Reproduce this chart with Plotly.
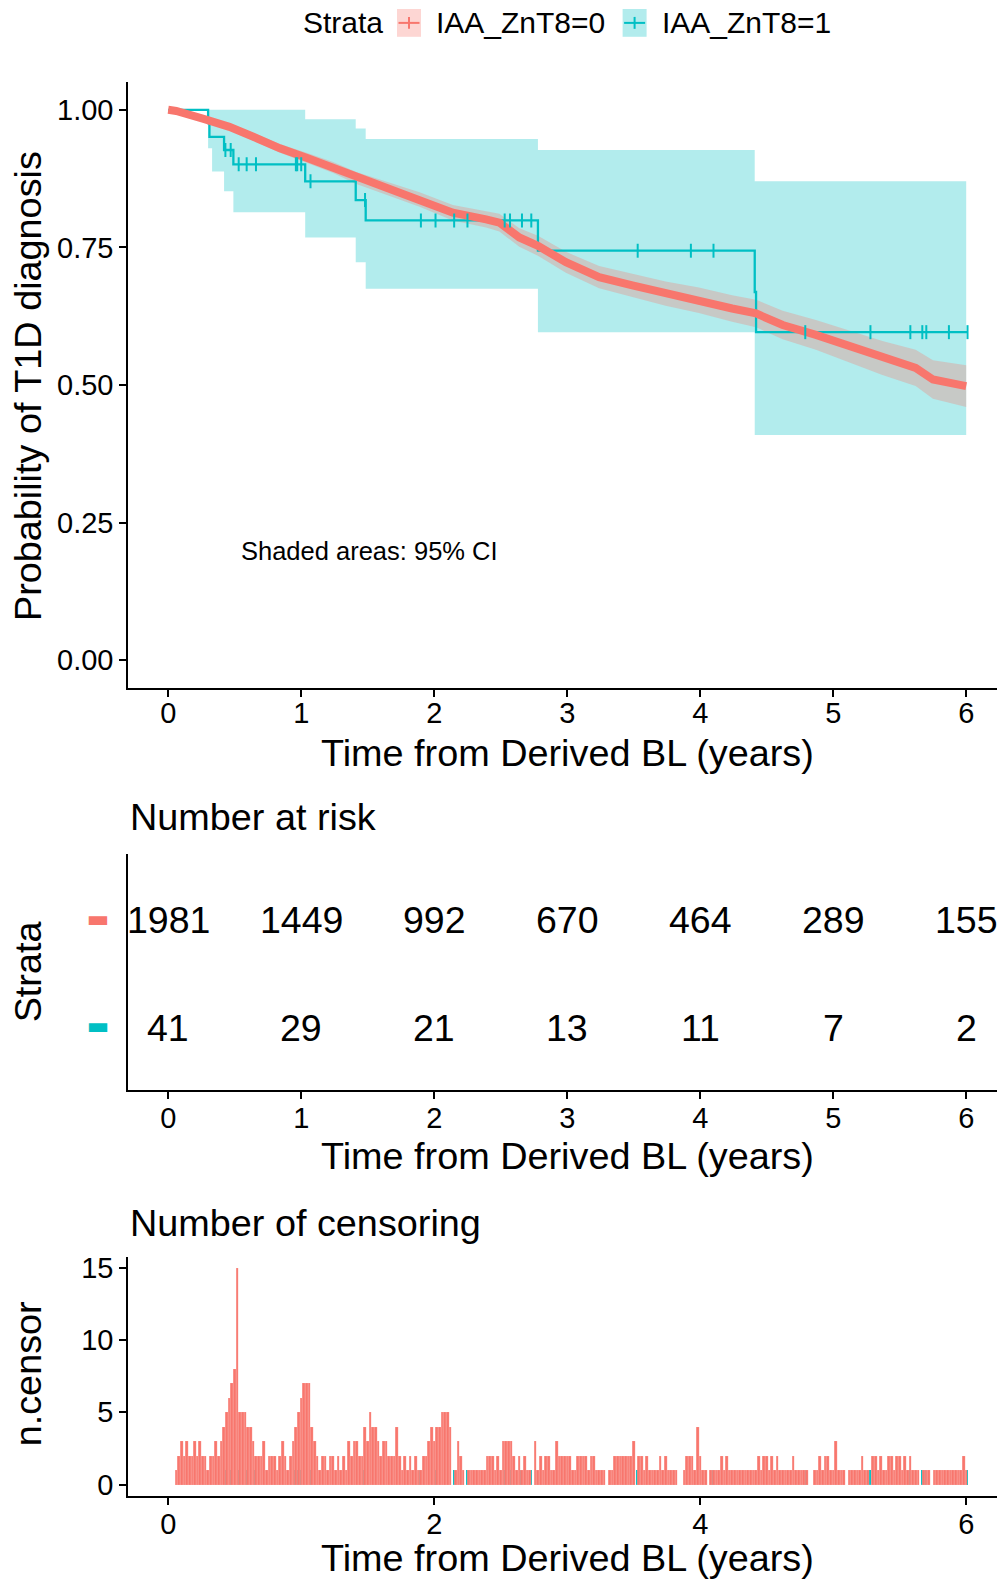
import plotly.graph_objects as go

W, H = 997, 1585
RED = "#F8766D"
TEAL = "#00BFC4"
RED_FILL = "rgba(248,118,109,0.3)"
TEAL_FILL = "rgba(0,191,196,0.3)"
FONT = "Liberation Sans, Arial, sans-serif"

# ---------------- data ----------------
strata_names = ["IAA_ZnT8=0", "IAA_ZnT8=1"]

# IAA_ZnT8=0 survival curve (dense censor marks make it a thick band)
red_time = [0, 0.06, 0.26, 0.46, 0.64, 0.84, 1.04, 1.24, 1.415, 1.64, 1.89, 2.14, 2.39, 2.49,
            2.64, 2.78, 2.99, 3.24, 3.49, 3.74, 3.99, 4.24, 4.42, 4.62, 4.87, 5.12, 5.37,
            5.62, 5.75, 6.0]
red_surv = [1.0, 0.998, 0.984, 0.969, 0.951, 0.930, 0.913, 0.895, 0.876, 0.858, 0.837, 0.813,
            0.801, 0.795, 0.768, 0.753, 0.723, 0.696, 0.681, 0.666, 0.654, 0.639, 0.630,
            0.609, 0.591, 0.570, 0.549, 0.531, 0.510, 0.498]
red_upper = [1.0, 1.0, 0.988, 0.975, 0.958, 0.938, 0.922, 0.905, 0.887, 0.870, 0.850, 0.827,
             0.816, 0.811, 0.785, 0.771, 0.742, 0.716, 0.702, 0.688, 0.677, 0.663, 0.655,
             0.635, 0.618, 0.599, 0.580, 0.564, 0.545, 0.536]
red_lower = [1.0, 0.996, 0.980, 0.963, 0.944, 0.922, 0.904, 0.885, 0.865, 0.846, 0.824, 0.799,
             0.786, 0.779, 0.751, 0.735, 0.704, 0.676, 0.660, 0.644, 0.631, 0.615, 0.605,
             0.583, 0.564, 0.541, 0.518, 0.498, 0.475, 0.460]

# IAA_ZnT8=1 step curve
teal_time = [0, 0.30, 0.31, 0.42, 0.49, 1.03, 1.41, 1.485, 2.78, 4.41, 4.42, 6.01]
teal_surv = [1.0, 0.976, 0.951, 0.927, 0.901, 0.870, 0.836, 0.799, 0.744, 0.669, 0.596, 0.596]
teal_ci_time = [0, 0.30, 0.33, 0.42, 0.49, 1.03, 1.41, 1.485, 2.78, 4.41, 6.0]
teal_ci_upper = [1.0, 1.0, 1.0, 1.0, 1.0, 0.983, 0.966, 0.947, 0.927, 0.870, 0.870]
teal_ci_lower = [1.0, 0.930, 0.888, 0.852, 0.814, 0.768, 0.723, 0.675, 0.596, 0.409, 0.409]
teal_cens_time = [0.43, 0.47, 0.53, 0.59, 0.66, 0.96, 0.97, 1.00, 1.07, 1.48, 1.90, 2.01, 2.15,
                  2.25, 2.53, 2.57, 2.66, 2.73, 3.53, 3.93, 4.10, 4.79, 5.28, 5.58, 5.67,
                  5.70, 5.87, 6.01]
teal_cens_surv = [0.927, 0.927, 0.901, 0.901, 0.901, 0.901, 0.901, 0.901, 0.870, 0.836, 0.799,
                  0.799, 0.799, 0.799, 0.799, 0.799, 0.799, 0.799, 0.744, 0.744, 0.744, 0.596,
                  0.596, 0.596, 0.596, 0.596, 0.596, 0.596]
teal_cens_count = [1] * len(teal_cens_time)

# Number at risk
risk_times = [0, 1, 2, 3, 4, 5, 6]
risk_red = [1981, 1449, 992, 670, 464, 289, 155]
risk_teal = [41, 29, 21, 13, 11, 7, 2]

# Number of censoring (IAA_ZnT8=0), per 0.02-year bin
red_censor_time = [
    0.06, 0.08, 0.10, 0.12, 0.14, 0.16, 0.18, 0.20, 0.22, 0.24, 0.26, 0.28, 0.30, 0.32, 0.34, 0.36, 0.38, 0.40, 0.42, 0.44, 0.46, 0.48, 0.50, 0.52, 0.54,
    0.56, 0.58, 0.60, 0.62, 0.64, 0.66, 0.68, 0.70, 0.72, 0.74, 0.76, 0.78, 0.80, 0.82, 0.84, 0.86, 0.88, 0.90, 0.92, 0.94, 0.96, 0.98, 1.00, 1.02, 1.04,
    1.06, 1.08, 1.10, 1.12, 1.14, 1.16, 1.18, 1.20, 1.22, 1.24, 1.26, 1.28, 1.30, 1.32, 1.34, 1.36, 1.38, 1.40, 1.42, 1.44, 1.46, 1.48, 1.50, 1.52, 1.54,
    1.56, 1.58, 1.60, 1.62, 1.64, 1.66, 1.68, 1.70, 1.72, 1.74, 1.76, 1.78, 1.80, 1.82, 1.84, 1.86, 1.88, 1.90, 1.92, 1.94, 1.96, 1.98, 2.00, 2.02, 2.04,
    2.06, 2.08, 2.10, 2.12, 2.14, 2.16, 2.18, 2.20, 2.22, 2.24, 2.26, 2.28, 2.30, 2.32, 2.34, 2.36, 2.38, 2.40, 2.42, 2.44, 2.46, 2.48, 2.50, 2.52, 2.54,
    2.56, 2.58, 2.60, 2.62, 2.64, 2.66, 2.68, 2.70, 2.72, 2.74, 2.76, 2.78, 2.80, 2.82, 2.84, 2.86, 2.88, 2.90, 2.92, 2.94, 2.96, 2.98, 3.00, 3.02, 3.04,
    3.06, 3.08, 3.10, 3.12, 3.14, 3.16, 3.18, 3.20, 3.22, 3.24, 3.26, 3.28, 3.30, 3.32, 3.34, 3.36, 3.38, 3.40, 3.42, 3.44, 3.46, 3.48, 3.50, 3.52, 3.54,
    3.56, 3.58, 3.60, 3.62, 3.64, 3.66, 3.68, 3.70, 3.72, 3.74, 3.76, 3.78, 3.80, 3.82, 3.84, 3.86, 3.88, 3.90, 3.92, 3.94, 3.96, 3.98, 4.00, 4.02, 4.04,
    4.06, 4.08, 4.10, 4.12, 4.14, 4.16, 4.18, 4.20, 4.22, 4.24, 4.26, 4.28, 4.30, 4.32, 4.34, 4.36, 4.38, 4.40, 4.42, 4.44, 4.46, 4.48, 4.50, 4.52, 4.54,
    4.56, 4.58, 4.60, 4.62, 4.64, 4.66, 4.68, 4.70, 4.72, 4.74, 4.76, 4.78, 4.80, 4.82, 4.84, 4.86, 4.88, 4.90, 4.92, 4.94, 4.96, 4.98, 5.00, 5.02, 5.04,
    5.06, 5.08, 5.10, 5.12, 5.14, 5.16, 5.18, 5.20, 5.22, 5.24, 5.26, 5.28, 5.30, 5.32, 5.34, 5.36, 5.38, 5.40, 5.42, 5.44, 5.46, 5.48, 5.50, 5.52, 5.54,
    5.56, 5.58, 5.60, 5.62, 5.64, 5.66, 5.68, 5.70, 5.72, 5.74, 5.76, 5.78, 5.80, 5.82, 5.84, 5.86, 5.88, 5.90, 5.92, 5.94, 5.96, 5.98, 6.00,
]
red_censor_count = [
    1, 2, 3, 2, 3, 2, 2, 3, 2, 3, 2, 2, 1, 2, 2, 3, 2, 3, 4, 5, 6, 7, 8, 15, 5,
    5, 5, 4, 4, 3, 2, 2, 2, 3, 1, 2, 2, 2, 1, 2, 3, 2, 1, 2, 3, 4, 5, 6, 7, 7,
    7, 4, 3, 2, 1, 2, 2, 1, 2, 2, 1, 2, 1, 2, 1, 3, 2, 3, 3, 2, 2, 4, 3, 5, 4,
    4, 3, 2, 3, 3, 2, 2, 2, 4, 2, 1, 2, 1, 2, 1, 2, 1, 1, 2, 2, 3, 4, 3, 4, 4,
    5, 5, 5, 4, 0, 1, 3, 2, 1, 0, 1, 1, 1, 1, 1, 1, 1, 2, 2, 2, 1, 2, 1, 3, 3,
    3, 3, 2, 1, 2, 1, 2, 1, 1, 0, 3, 1, 2, 1, 2, 2, 1, 1, 3, 2, 2, 2, 2, 2, 1,
    1, 2, 2, 2, 2, 1, 2, 2, 1, 1, 1, 1, 0, 1, 1, 2, 2, 2, 2, 2, 2, 2, 3, 0, 2,
    2, 1, 2, 1, 1, 1, 1, 2, 1, 2, 1, 1, 1, 1, 0, 0, 1, 2, 2, 2, 1, 4, 2, 1, 1,
    0, 1, 1, 1, 1, 2, 1, 2, 1, 1, 1, 1, 1, 1, 1, 1, 1, 1, 1, 2, 1, 2, 2, 1, 2,
    1, 2, 1, 1, 1, 1, 1, 2, 1, 1, 1, 1, 1, 0, 0, 1, 1, 2, 1, 2, 2, 1, 1, 3, 1,
    1, 1, 0, 1, 1, 1, 1, 1, 2, 1, 1, 0, 2, 2, 1, 2, 1, 1, 2, 2, 1, 2, 2, 1, 2,
    1, 2, 1, 1, 1, 0, 1, 1, 1, 0, 1, 1, 1, 1, 1, 1, 1, 1, 1, 1, 1, 2, 1,
]

x_ticks_main = [0, 1, 2, 3, 4, 5, 6]
y_ticks_main = [0, 0.25, 0.5, 0.75, 1.0]
y_ticklabels_main = ["0.00", "0.25", "0.50", "0.75", "1.00"]
x_ticks_cens = [0, 2, 4, 6]
y_ticks_cens = [0, 5, 10, 15]

# ---------------- layout helpers (pixel -> paper) ----------------
def fx(p):
    return p / W


def fy(p):
    return 1 - p / H


X0 = 128.3           # left edge of panels (px)
XR = [-0.3, 6.2316]  # panel x range

fig = go.Figure()

# --- survival panel ---
fig.add_trace(go.Scatter(x=teal_ci_time, y=teal_ci_upper, mode="lines",
                         line=dict(width=0, shape="hv"), hoverinfo="skip",
                         xaxis="x", yaxis="y"))
fig.add_trace(go.Scatter(x=teal_ci_time, y=teal_ci_lower, mode="lines",
                         line=dict(width=0, shape="hv"), fill="tonexty",
                         fillcolor=TEAL_FILL, hoverinfo="skip", xaxis="x", yaxis="y"))
fig.add_trace(go.Scatter(x=red_time, y=red_upper, mode="lines",
                         line=dict(width=0), hoverinfo="skip", xaxis="x", yaxis="y"))
fig.add_trace(go.Scatter(x=red_time, y=red_lower, mode="lines",
                         line=dict(width=0), fill="tonexty",
                         fillcolor=RED_FILL, hoverinfo="skip", xaxis="x", yaxis="y"))
fig.add_trace(go.Scatter(x=teal_time, y=teal_surv, mode="lines", name=strata_names[1],
                         line=dict(color=TEAL, width=2.3, shape="hv"), xaxis="x", yaxis="y"))
fig.add_trace(go.Scatter(x=red_time, y=red_surv, mode="lines", name=strata_names[0],
                         line=dict(color=RED, width=8), xaxis="x", yaxis="y"))
fig.add_trace(go.Scatter(x=teal_cens_time, y=teal_cens_surv, mode="markers",
                         marker=dict(symbol="line-ns", size=10,
                                     line=dict(color=TEAL, width=2)),
                         xaxis="x", yaxis="y"))

# --- risk table (invisible anchor trace so the axes exist) ---
fig.add_trace(go.Scatter(x=risk_times, y=[1] * len(risk_times), mode="markers",
                         marker=dict(size=1, opacity=0), hoverinfo="skip",
                         xaxis="x2", yaxis="y2"))

# --- censoring plot ---
fig.add_trace(go.Bar(x=teal_cens_time, y=teal_cens_count, width=0.012,
                     marker=dict(color=TEAL, line=dict(width=0)), xaxis="x3", yaxis="y3"))
fig.add_trace(go.Bar(x=red_censor_time, y=red_censor_count, width=0.02,
                     marker=dict(color=RED, line=dict(width=0.3, color="rgba(255,255,255,0.45)")),
                     xaxis="x3", yaxis="y3"))

axis_common = dict(showline=True, linecolor="black", linewidth=2, ticks="outside",
                   ticklen=7, tickwidth=2, tickcolor="black", showgrid=False,
                   zeroline=False, tickfont=dict(size=29, color="black", family=FONT),
                   fixedrange=True)

fig.update_layout(
    width=W, height=H, margin=dict(l=0, r=0, t=0, b=0),
    paper_bgcolor="white", plot_bgcolor="white", showlegend=False,
    barmode="overlay", bargap=0,
    font=dict(family=FONT, color="black"),
    xaxis=dict(domain=[fx(X0), 1], range=XR, tickvals=x_ticks_main, anchor="y",
               ticklabelstandoff=-8, **axis_common),
    yaxis=dict(domain=[fy(687.0), fy(77.8)], range=[-0.05, 1.05], tickvals=y_ticks_main,
               ticktext=y_ticklabels_main, anchor="x", **axis_common),
    xaxis2=dict(domain=[fx(X0), 1], range=XR, tickvals=x_ticks_main, anchor="y2",
                ticklabelstandoff=-6, **axis_common),
    yaxis2=dict(domain=[fy(1092), fy(854)], range=[2.6, 0.4], tickvals=[1, 2],
                ticktext=['<span style="color:%s">▬</span>' % RED,
                          '<span style="color:%s">▬</span>' % TEAL],
                anchor="x2", showline=True, linecolor="black", linewidth=2, ticks="",
                showgrid=False, zeroline=False, ticklabelstandoff=12,
                tickfont=dict(size=24, family="DejaVu Sans"), fixedrange=True),
    xaxis3=dict(domain=[fx(X0), 1], range=XR, tickvals=x_ticks_cens, anchor="y3",
                ticklabelstandoff=-6, **axis_common),
    yaxis3=dict(domain=[fy(1500.3), fy(1260)], range=[-0.78, 15.75], tickvals=y_ticks_cens,
                anchor="x3", **axis_common),
)

TITLE = 37.8
ann = []
def add_text(text, x, y, size, xanchor="center", xref="paper", yref="paper", angle=0, yshift=0):
    ann.append(dict(text=text, x=x, y=y, xref=xref, yref=yref, xanchor=xanchor,
                    yanchor="middle", showarrow=False, textangle=angle, yshift=yshift,
                    font=dict(size=size, color="black", family=FONT)))

# legend
LEG_Y = 18
add_text("Strata", fx(301), fy(LEG_Y), 30, xanchor="left")
add_text(strata_names[0], fx(434), fy(LEG_Y), 30, xanchor="left")
add_text(strata_names[1], fx(660), fy(LEG_Y), 30, xanchor="left")
shapes = []
for (x0, col, fill) in [(397, RED, RED_FILL), (622.6, TEAL, TEAL_FILL)]:
    shapes.append(dict(type="rect", xref="paper", yref="paper", x0=fx(x0), x1=fx(x0 + 24),
                       y0=fy(LEG_Y + 14), y1=fy(LEG_Y - 14), fillcolor=fill, line=dict(width=0)))
    shapes.append(dict(type="line", xref="paper", yref="paper", x0=fx(x0 + 1.5), x1=fx(x0 + 22.5),
                       y0=fy(LEG_Y), y1=fy(LEG_Y), line=dict(color=col, width=2)))
    shapes.append(dict(type="line", xref="paper", yref="paper", x0=fx(x0 + 12), x1=fx(x0 + 12),
                       y0=fy(LEG_Y - 6), y1=fy(LEG_Y + 6), line=dict(color=col, width=2)))

# survival panel texts
add_text("Shaded areas: 95% CI", 0.53, 0.199, 25.5, xanchor="left", xref="x", yref="y")
add_text("Time from Derived BL (years)", 3, fy(753), TITLE, xref="x")
add_text("Probability of T1D diagnosis", fx(27.5), fy(384), TITLE, angle=-90)

# risk table numbers
for t, v in zip(risk_times, risk_red):
    add_text(str(v), t, 1, 37.5, xref="x2", yref="y2", yshift=-2)
for t, v in zip(risk_times, risk_teal):
    add_text(str(v), t, 2, 37.5, xref="x2", yref="y2", yshift=-2)

add_text("Number at risk", fx(128.4), fy(817), TITLE, xanchor="left")
add_text("Time from Derived BL (years)", 3, fy(1158), TITLE, xref="x2")
add_text("Strata", fx(27.5), fy(973), TITLE, angle=-90)
# censor texts
add_text("Number of censoring", fx(128.4), fy(1225.6), TITLE, xanchor="left")
add_text("Time from Derived BL (years)", 3, fy(1563), TITLE, xref="x3")
add_text("n.censor", fx(28), fy(1378), TITLE, angle=-90)

fig.update_layout(annotations=ann, shapes=shapes)

fig.write_html("out.html")
